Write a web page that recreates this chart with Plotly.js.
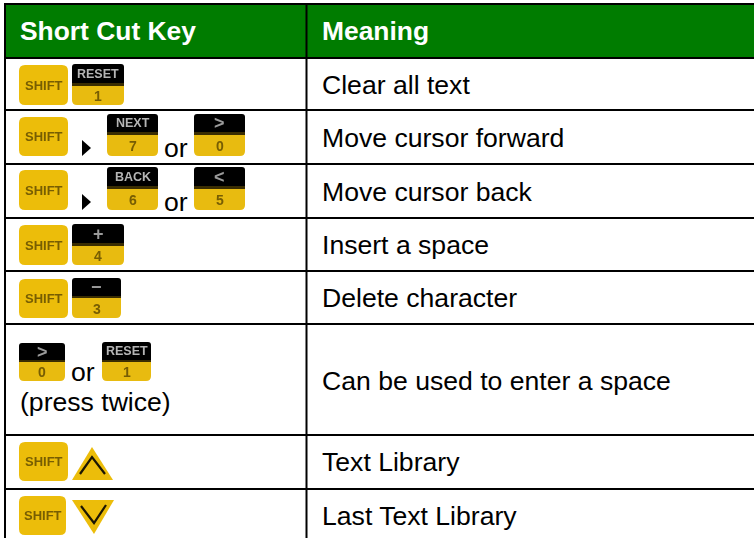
<!DOCTYPE html>
<html><head><meta charset="utf-8">
<script src="https://cdn.plot.ly/plotly-3.0.1.min.js"></script>
<style>html,body{margin:0;padding:0;background:#fff}#c{width:754px;height:538px}</style>
</head><body><div id="c"></div>
<script>
// Table content
var headers = ["Short Cut Key", "Meaning"];
var meanings = ["Clear all text", "Move cursor forward", "Move cursor back", "Insert a space", "Delete character", "Can be used to enter a space", "Text Library", "Last Text Library"];
var orLabel = "or";
var pressLabel = "(press twice)";
var shiftLabel = "SHIFT";
var keyTops = ["RESET", "NEXT", ">", "BACK", "<", "+", "−", ">", "RESET"];
var keyBottoms = ["1", "7", "0", "6", "5", "4", "3", "0", "1"];

// Page geometry (axis units = pixels)
var rowLines = [58, 110, 164, 218, 271, 324, 435, 489];
var rowCentres = [85, 138, 192, 245, 298, 381, 462, 516];
var shiftBoxes = [[19,68,65,105],[19,68,117,156],[19,68,170,210],[19,68,225,265],[19,68,279,318],[19,68,442,481],[19,66,496,535]];
var keyBoxes = [[72,124,64,83,86,105],[107,158,114,132,135,156],[194,245,114,132,135,156],[107,158,167,186,189,210],[194,245,167,186,189,210],[72,124,224,243,246,265],[72,121,278,296,298,318],[19,65,343,360,362,381],[102,151,342,360,362,381]];
var arrowRows = [[82,91,140,156],[82,91,194,210]];
var orSpots = [[175.5,147.5],[175.5,201.5],[83,372]];

var YELLOW = "#ecbd0a", BLACK = "#000", GREEN = "#007c00";
var shapes = [], notes = [];
function rr(x0,x1,y0,y1,r,rb){
  return "M"+(x0+r)+" "+y0+" L"+(x1-r)+" "+y0+" Q"+x1+" "+y0+" "+x1+" "+(y0+r)+
    " L"+x1+" "+(y1-rb)+" Q"+x1+" "+y1+" "+(x1-rb)+" "+y1+" L"+(x0+rb)+" "+y1+" Q"+x0+" "+y1+" "+x0+" "+(y1-rb)+
    " L"+x0+" "+(y0+r)+" Q"+x0+" "+y0+" "+(x0+r)+" "+y0+" Z";
}
function path(d,fill,line,w){
  shapes.push({type:"path",xref:"x",yref:"y",path:d,fillcolor:fill||"rgba(0,0,0,0)",line:{color:line||"rgba(0,0,0,0)",width:w||0}});
}
function rect(x0,x1,y0,y1,fill){
  shapes.push({type:"rect",xref:"x",yref:"y",x0:x0,x1:x1,y0:y0,y1:y1,fillcolor:fill,line:{width:0}});
}
function note(t,x,y,size,color,bold,anchor){
  notes.push({xref:"x",yref:"y",x:x,y:y,text:bold?"<b>"+t+"</b>":t,showarrow:false,xanchor:anchor||"left",yanchor:"middle",
    font:{family:"Liberation Sans, Arial, sans-serif",size:size,color:color},borderpad:0,borderwidth:0});
}
// table frame
rect(5,754,5,58,GREEN);
rect(4,754,3,5,BLACK);
rowLines.forEach(function(y){rect(5,754,y-1,y+1,BLACK);});
rect(4,6,3,538,BLACK);
rect(305.5,307.5,4,538,BLACK);
// text
note(headers[0],20,31,26.4,"#fff",true);
note(headers[1],322,31,26.4,"#fff",true);
meanings.forEach(function(m,i){note(m,322,rowCentres[i],26.6,"#000");});
orSpots.forEach(function(p){note(orLabel,p[0],p[1],26.6,"#000",false,"center");});
note(pressLabel,20,402,26.6,"#000");
// keys
shiftBoxes.forEach(function(b){path(rr(b[0],b[1],b[2],b[3],6,6),YELLOW);});
keyBoxes.forEach(function(b){
  path(rr(b[0],b[1],b[4],b[5],0.01,5),"#e8bb10");
  path(rr(b[0],b[1],b[2],b[3],3,0.01),BLACK);
  rect(b[0],b[1],b[3],b[4],"#3a2d02");
});
arrowRows.forEach(function(a){path("M"+a[0]+" "+a[2]+" L"+a[1]+" "+((a[2]+a[3])/2)+" L"+a[0]+" "+a[3]+" Z",BLACK);});
// triangle keys
path("M92 447 L113 480 L72 480 Z",YELLOW);
path("M80 474 L92 457 L105 474","rgba(0,0,0,0)","#1c1603",2.2);
path("M72 500 L114 500 L94 534 Z",YELLOW);
path("M81 506 L94 523 L106 505","rgba(0,0,0,0)","#1c1603",2.2);
var firstKeyNote = notes.length;
shiftBoxes.forEach(function(b){note(shiftLabel,(b[0]+b[1])/2,(b[2]+b[3])/2,13,"rgba(90,70,0,0.8)",true,"center");});
keyBoxes.forEach(function(b,i){
  var t = keyTops[i], big = t.length===1;
  note(t,(b[0]+b[1])/2,(b[2]+b[3])/2,big?18:12.5,big?"#9a9a9a":"#b5b5b5",true,"center");
  note(keyBottoms[i],(b[0]+b[1])/2,(b[4]+b[5])/2+0.5,14,"rgba(90,70,0,0.8)",true,"center");
});
var rules = [];
for(var i=firstKeyNote;i<notes.length;i++){rules.push('.annotation[data-index="'+i+'"] text');}
var st = document.createElement("style");
st.textContent = rules.join(",")+"{filter:blur(0.7px);}";
document.head.appendChild(st);

var axis = {visible:false,showgrid:false,zeroline:false,fixedrange:true};
Plotly.newPlot("c",[{type:"scatter",x:[],y:[],mode:"markers",hoverinfo:"skip"}],{
  width:754,height:538,margin:{l:0,r:0,t:0,b:0,pad:0},showlegend:false,
  paper_bgcolor:"#fff",plot_bgcolor:"#fff",
  xaxis:Object.assign({range:[0,754]},axis),
  yaxis:Object.assign({range:[538,0]},axis),
  shapes:shapes,annotations:notes
},{displayModeBar:false,staticPlot:true});
</script></body></html>
